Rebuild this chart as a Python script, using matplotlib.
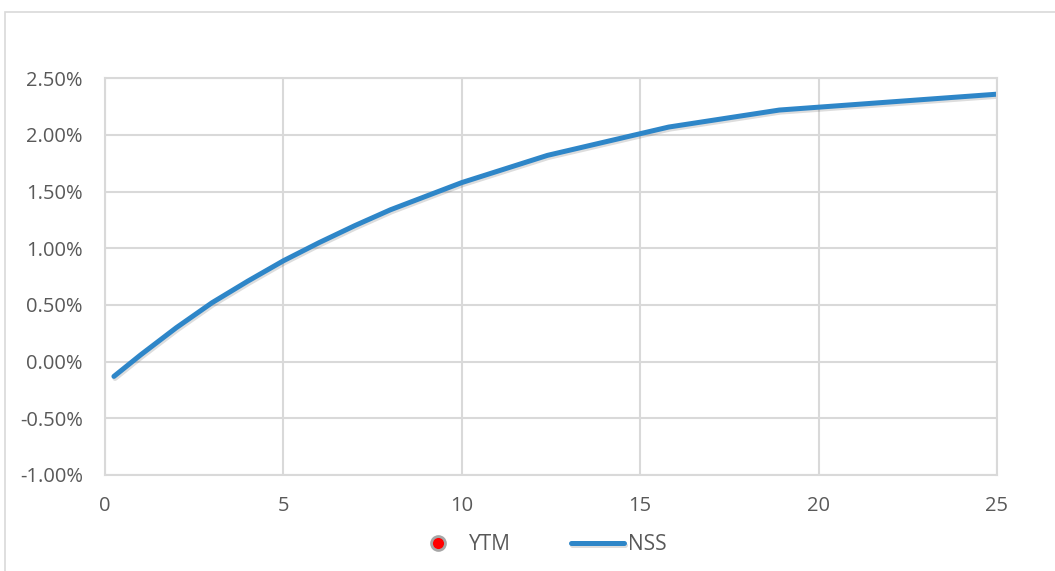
import matplotlib
matplotlib.use("Agg")
from matplotlib import pyplot as plt
from matplotlib import patheffects as pe
from matplotlib.patches import Rectangle
from matplotlib.ticker import FuncFormatter
import numpy as np

# NSS fitted curve (maturity in years, yield in %)
nss_maturity = [0.25, 1, 2, 3, 4, 5, 6, 7, 8, 9, 10, 11, 12.4, 15.8, 18.9, 25]
nss_yield = [-0.13, 0.06, 0.30, 0.52, 0.71, 0.89, 1.05, 1.20, 1.34, 1.46, 1.58, 1.68, 1.82, 2.07, 2.22, 2.36]

# YTM observations (none visible in the plotted range)
ytm_maturity = []
ytm_yield = []

x_ticks = [0, 5, 10, 15, 20, 25]
y_ticks = [-1.0, -0.5, 0.0, 0.5, 1.0, 1.5, 2.0, 2.5]

plt.rcParams['font.family'] = ['Open Sans', 'DejaVu Sans']
text_color = '#595959'
grid_color = '#D9D9D9'

fig = plt.figure(figsize=(10.55, 5.71), dpi=100)
ax = fig.add_axes([105 / 1055, 1 - 475 / 571, 892 / 1055, (475 - 78.3) / 571])

# outer chart frame
fig.patches.append(Rectangle((5 / 1055, -0.5), 2, 0.5 + 1 - 12 / 571,
                             transform=fig.transFigure, fill=False,
                             edgecolor=grid_color, linewidth=1.2))

ax.plot(ytm_maturity, ytm_yield, linestyle='none', marker='o', markersize=10,
        markerfacecolor='#FF0000', markeredgecolor='#A6A6A6', markeredgewidth=2,
        label='YTM')
ax.plot(nss_maturity, nss_yield, color='#2E86C8', linewidth=3.6,
        solid_capstyle='round', solid_joinstyle='round', label='NSS',
        path_effects=[pe.SimpleLineShadow(offset=(0.8, -1.5), alpha=0.2, shadow_color='#555555'),
                      pe.Normal()])

ax.set_xlim(0, 25)
ax.set_ylim(-1.0, 2.5)
ax.set_xticks(x_ticks)
ax.set_yticks(y_ticks)
ax.yaxis.set_major_formatter(FuncFormatter(lambda v, p: f"{v:.2f}%"))
ax.grid(True, color=grid_color, linewidth=1.5)
ax.set_axisbelow(True)
for s in ax.spines.values():
    s.set_color(grid_color)
    s.set_linewidth(1.5)
ax.tick_params(length=0, labelsize=14.5, labelcolor=text_color)
ax.tick_params(axis='y', pad=16)
ax.tick_params(axis='x', pad=15)

fig.legend(loc='center', bbox_to_anchor=(0.511, 1 - 545 / 571), ncol=2, frameon=False,
           fontsize=15, labelcolor=text_color, handlelength=2.55, handletextpad=0.2,
           columnspacing=2.9)

plt.savefig("out.png", dpi=100)
